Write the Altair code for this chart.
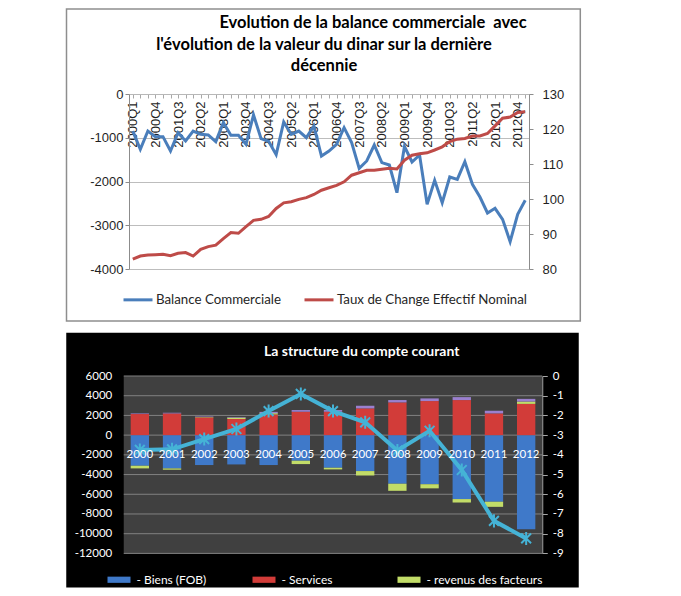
import json
import altair as alt
import pandas as pd

# ---------------- data: top chart (quarterly) ----------------
trimestres = [f"{a}Q{q}" for a in range(2000, 2014) for q in range(1, 5)][:53]
etiquettes = trimestres[::3]
balance = [-850, -1265, -846, -975, -975, -1303, -884, -1074, -846, -922,
           -937, -1089, -655, -945, -945, -1150, -480, -1020, -1082, -1387,
           -640, -922, -846, -998, -732, -1417, -1303, -1150, -770, -1112,
           -1699, -1531, -1166, -1569, -1623, -2255, -1200, -1554, -1394, -2522,
           -1973, -2484, -1897, -1950, -1547, -2065, -2354, -2720, -2613, -2865,
           -3375, -2750, -2430]
taux = [82.8, 83.7, 84.0, 84.1, 84.2, 83.8, 84.5, 84.7, 83.7, 85.6,
        86.4, 86.8, 88.7, 90.4, 90.2, 92.1, 93.9, 94.2, 95.0, 97.3,
        98.9, 99.2, 99.9, 100.4, 101.3, 102.5, 103.2, 103.9, 104.9, 106.8,
        107.5, 108.2, 108.2, 108.5, 108.8, 108.6, 111.1, 112.5, 112.9, 113.2,
        114.0, 114.9, 116.4, 117.1, 117.3, 118.0, 118.0, 118.7, 120.9, 123.1,
        123.4, 124.7, 124.9]
series_haut = ["Balance Commerciale", "Taux de Change Effectif Nominal"]
titre_haut = ["Evolution de la balance commerciale \u00a0avec",
              "l'évolution de la valeur du dinar sur la dernière",
              "décennie"]
ticks_gauche = [0, -1000, -2000, -3000, -4000]
ticks_droite = [80, 90, 100, 110, 120, 130]

# ---------------- data: bottom chart (yearly) ----------------
annees = [str(a) for a in range(2000, 2013)]
biens = [-3105, -3379, -3034, -2973, -3034, -2597, -3308, -3646, -4930, -4980, -6487, -6757, -9540]
services = [2141, 2202, 1800, 1633, 2100, 2374, 2374, 2712, 3321, 3457, 3558, 2205, 3170]
facteurs = [-270, -130, 40, 150, 130, -340, -170, -450, -720, -420, -350, -520, 240]
transferts = [60, 70, 50, 60, 130, 170, 170, 270, 240, 270, 300, 270, 270]
solde = [-3.75, -3.72, -3.2, -2.69, -1.78, -0.91, -1.78, -2.35, -3.78, -2.78, -4.77, -7.35, -8.24]
composantes = ["- Biens (FOB)", "- Services", "- revenus des facteurs", "- Transferts courants"]
couleurs = ["#3f79c9", "#d23c39", "#c2dc68", "#9b80cf"]
titre_bas = "La structure du compte courant"
ticks_g2 = [6000, 4000, 2000, 0, -2000, -4000, -6000, -8000, -10000, -12000]
ticks_d2 = [0, -1, -2, -3, -4, -5, -6, -7, -8, -9]

FONT_AX = "Liberation Sans"
FONT_T = "Lato"
ONE = alt.Data(values=[{}])
PLAIN = "'' + datum.value"

# ================= TOP CHART =================
W1, H1 = 400, 175
df1 = pd.DataFrame({"trimestre": trimestres, "balance": balance, "taux": taux})
lab_expr = "indexof(" + json.dumps(etiquettes) + ", datum.value) >= 0 ? datum.label : ''"

x_haut = alt.X("trimestre:O", sort=trimestres,
               scale=alt.Scale(type="point", padding=0.5),
               axis=alt.Axis(orient="bottom", offset=-H1, title=None, labelAngle=-90,
                             labelExpr=lab_expr, labelOverlap=False, labelFont=FONT_AX,
                             labelFontSize=13, labelColor="#1f1f1f", labelPadding=3,
                             ticks=True, tickSize=4, tickColor="#a8a8a8",
                             domain=True, domainColor="#b8b8b8", grid=False))

coul_haut = alt.Color("serie:N",
                      scale=alt.Scale(domain=series_haut, range=["#4a7ebb", "#be4b48"]),
                      legend=alt.Legend(orient="none", legendX=-7, legendY=189.5,
                                        direction="horizontal", title=None,
                                        symbolType="stroke", symbolSize=841,
                                        symbolStrokeWidth=3, labelFont=FONT_T,
                                        labelFontSize=13.3, labelColor="#262626",
                                        labelLimit=400, columnPadding=17, labelOffset=2,
                                        padding=0))

ligne_b = alt.Chart(df1).transform_calculate(serie="'Balance Commerciale'").mark_line(
    strokeWidth=3).encode(
    x=x_haut,
    y=alt.Y("balance:Q", scale=alt.Scale(domain=[-4000, 0], nice=False),
            axis=alt.Axis(orient="left", values=ticks_gauche, title=None, grid=True,
                          gridColor="#bdbdbd", domainColor="#8c8c8c", tickColor="#8c8c8c",
                          tickSize=4, labelPadding=2, labelFont=FONT_AX, labelFontSize=13,
                          labelColor="#1f1f1f", labelExpr=PLAIN)),
    color=coul_haut)

ligne_r = alt.Chart(df1).transform_calculate(serie="'Taux de Change Effectif Nominal'").mark_line(
    strokeWidth=3).encode(
    x=x_haut,
    y=alt.Y("taux:Q", scale=alt.Scale(domain=[80, 130], nice=False, zero=False),
            axis=alt.Axis(orient="right", values=ticks_droite, title=None, grid=False,
                          domainColor="#8c8c8c", tickColor="#8c8c8c", tickSize=4,
                          labelPadding=9, labelFont=FONT_AX, labelFontSize=13,
                          labelColor="#1f1f1f")),
    color=coul_haut)

cadre1 = alt.Chart(ONE).mark_rect(filled=False, stroke="#8e8e8e", strokeWidth=1.5).encode(
    x=alt.value(-62.5), x2=alt.value(451.3), y=alt.value(-85), y2=alt.value(227))


def texte(s, x, y, size, color, weight="bold"):
    return alt.Chart(ONE).mark_text(text=s, font=FONT_T, fontSize=size, fontWeight=weight,
                                    color=color, align="center", baseline="middle").encode(
        x=alt.value(x), y=alt.value(y))


t1 = texte(titre_haut[0], 244, -71, 16.5, "#000000")
t2 = texte(titre_haut[1], 195, -49, 16.5, "#000000")
t3 = texte(titre_haut[2], 195, -28, 16.5, "#000000")

haut = alt.layer(cadre1, t1, t2, t3, ligne_b, ligne_r).resolve_scale(
    y="independent").properties(width=W1, height=H1)

# ================= BOTTOM CHART =================
# plot origin is shared with the top chart (x = 128 px); the plot area starts 5 px further left
X0, W2, H2 = -5.25, 413.25, 177.4
rows = []
for i, a in enumerate(annees):
    for k, (nom, vals) in enumerate(zip(composantes, [biens, services, facteurs, transferts])):
        rows.append({"annee": a, "composante": nom, "valeur": vals[i], "ordre": k})
df_bar = pd.DataFrame(rows)
df_line = pd.DataFrame({"annee": annees, "solde": solde})
df_grid = pd.DataFrame({"g": ticks_g2})

zero_off = H2 * 6000 / 18000
x_bas = alt.X("annee:O", sort=annees,
              scale=alt.Scale(type="band", paddingInner=0.43, paddingOuter=0.215,
                              range=[X0, W2]),
              axis=alt.Axis(orient="bottom", offset=-(H2 - zero_off), title=None, labelAngle=0,
                            domain=False, ticks=False, tickSize=0, labelPadding=13,
                            labelColor="#ffffff", labelFont=FONT_T, labelFontSize=11.5,
                            grid=False, zindex=1))

fond_noir = alt.Chart(ONE).mark_rect(color="#000000").encode(
    x=alt.value(-62.75), x2=alt.value(449.75), y=alt.value(-43.3), y2=alt.value(211.5))
fond_plot = alt.Chart(ONE).mark_rect(color="#404040").encode(
    x=alt.value(X0), x2=alt.value(W2), y=alt.value(0), y2=alt.value(H2))

grille = alt.Chart(df_grid).mark_rule(color="#808080", strokeWidth=1).encode(
    y=alt.Y("g:Q", scale=alt.Scale(domain=[-12000, 6000], nice=False), axis=None),
    x=alt.value(X0), x2=alt.value(W2))

barres = alt.Chart(df_bar).mark_bar().encode(
    x=x_bas,
    y=alt.Y("valeur:Q", stack="zero", scale=alt.Scale(domain=[-12000, 6000], nice=False),
            axis=alt.Axis(orient="left", values=ticks_g2, title=None, grid=False, domain=False,
                          ticks=False, labelPadding=12, offset=-X0, labelColor="#ffffff",
                          labelFont=FONT_T, labelFontSize=11.5, zindex=1, labelExpr=PLAIN)),
    color=alt.Color("composante:N", scale=alt.Scale(domain=composantes, range=couleurs),
                    legend=alt.Legend(orient="none", legendX=-21.5, legendY=192,
                                      direction="horizontal", columns=3, gridAlign="all",
                                      title=None, values=composantes[:3],
                                      symbolType="M-1,-0.27L1,-0.27L1,0.27L-1,0.27Z",
                                      symbolSize=529, symbolStrokeWidth=0,
                                      labelFont=FONT_T, labelFontSize=12,
                                      labelColor="#ffffff", columnPadding=0, labelOffset=6,
                                      padding=0)),
    order=alt.Order("ordre:Q"))

CYAN = "#45b3d6"
AST = "M0,-1L0,1M-0.75,-0.75L0.75,0.75M-0.75,0.75L0.75,-0.75"
ligne_s = alt.Chart(df_line).mark_line(
    color=CYAN, strokeWidth=4,
    point=alt.OverlayMarkDef(shape=AST, filled=False, color=CYAN, strokeWidth=2, size=170)).encode(
    x=x_bas,
    y=alt.Y("solde:Q", scale=alt.Scale(domain=[-9, 0], nice=False),
            axis=alt.Axis(orient="right", values=ticks_d2, title=None, grid=False, domain=True,
                          domainColor="#a6a6a6", ticks=True, tickColor="#a6a6a6", tickSize=5,
                          labelPadding=5, labelColor="#ffffff", labelFont=FONT_T,
                          labelFontSize=11.5, zindex=1, labelExpr=PLAIN)))

t_bas = texte(titre_bas, 232.75, -24.3, 14, "#ffffff")

bas = alt.layer(fond_noir, fond_plot, grille, barres, ligne_s, t_bas).resolve_scale(
    y="independent").properties(width=W2, height=H2)

chart = alt.vconcat(haut, bas, spacing=10).resolve_scale(
    color="independent").resolve_legend(color="independent").properties(
    padding={"left": 57, "top": 0, "right": 4, "bottom": 0}).configure_view(stroke=None)

chart.save("out.html", embed_options={"renderer": "svg", "actions": False})
